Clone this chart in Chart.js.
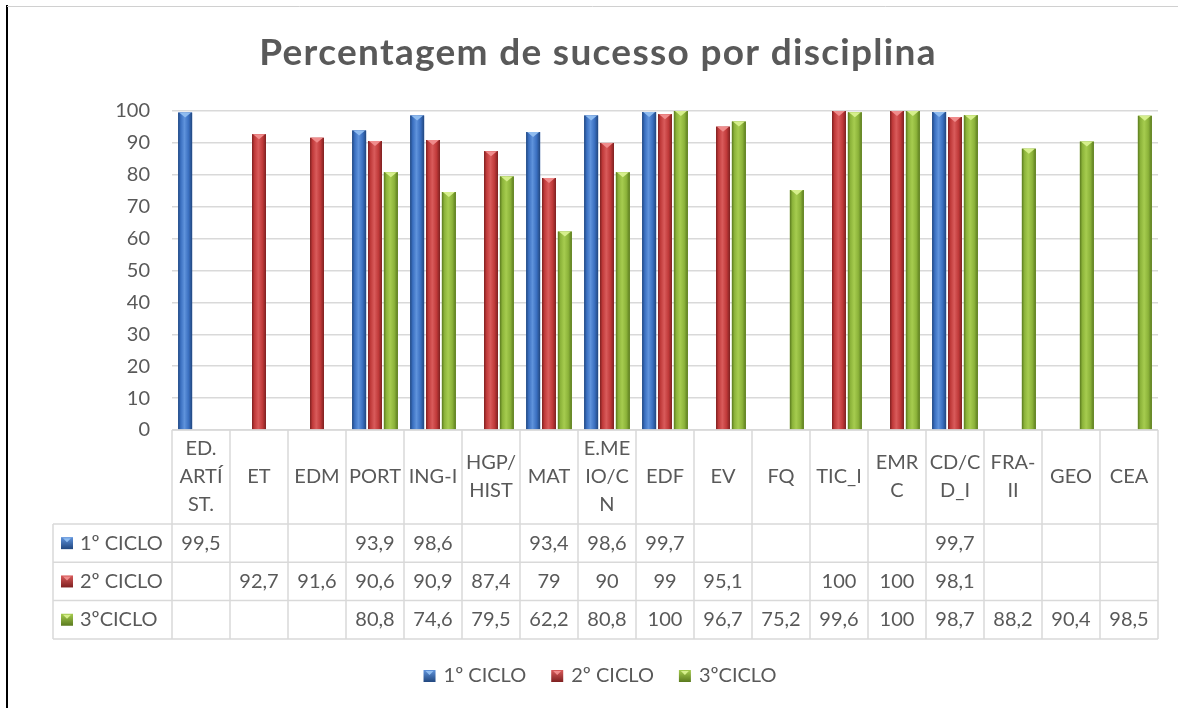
<!DOCTYPE html>
<html>
<head>
<meta charset="utf-8">
<script src="https://cdn.jsdelivr.net/npm/chart.js@4/dist/chart.umd.min.js"></script>
<style>
html,body{margin:0;padding:0;background:#fff;}
#wrap{position:relative;width:1178px;height:708px;}
</style>
</head>
<body>
<div id="wrap"><canvas id="c" width="1178" height="708"></canvas></div>
<script>
const categories = [["ED.","ARTÍ","ST."],["ET"],["EDM"],["PORT"],["ING-I"],["HGP/","HIST"],["MAT"],["E.ME","IO/C","N"],["EDF"],["EV"],["FQ"],["TIC_I"],["EMR","C"],["CD/C","D_I"],["FRA-","II"],["GEO"],["CEA"]];
const seriesNames = ["1º CICLO","2º CICLO","3ºCICLO"];
const ciclo1 = [99.5,null,null,93.9,98.6,null,93.4,98.6,99.7,null,null,null,null,99.7,null,null,null];
const ciclo2 = [null,92.7,91.6,90.6,90.9,87.4,79,90,99,95.1,null,100,100,98.1,null,null,null];
const ciclo3 = [null,null,null,80.8,74.6,79.5,62.2,80.8,100,96.7,75.2,99.6,100,98.7,88.2,90.4,98.5];
const yTicks = [0,10,20,30,40,50,60,70,80,90,100];
const titleText = "Percentagem de sucesso por disciplina";

const FONT = "Lato, 'Open Sans', sans-serif";
const TXT = "#595959";
const GRID = "#d9d9d9";
const palette = [
  {base:"#3a6fc0", dark:"#21477f", light:"#5f93dc", tri:"#8fbcf0"},
  {base:"#c03a3a", dark:"#7e2020", light:"#d95b5b", tri:"#f08c8c"},
  {base:"#8cb33a", dark:"#5a7a1e", light:"#a6cc4f", tri:"#d6ef8c"}
];

function fmt(v){ return String(v).replace(".", ","); }

const bevelPlugin = {
  id:"bevel",
  afterDatasetsDraw(chart){
    const ctx = chart.ctx;
    chart.data.datasets.forEach((ds, di) => {
      const meta = chart.getDatasetMeta(di);
      const p = palette[di];
      meta.data.forEach((el, i) => {
        if (ds.data[i] == null) return;
        const {x, y, base, width} = el.getProps(["x","y","base","width"], true);
        const l = x - width/2, r = x + width/2;
        ctx.save();
        const g = ctx.createLinearGradient(l, 0, r, 0);
        g.addColorStop(0, p.dark);
        g.addColorStop(0.18, p.base);
        g.addColorStop(0.45, p.light);
        g.addColorStop(0.75, p.base);
        g.addColorStop(1, p.dark);
        ctx.fillStyle = g;
        ctx.fillRect(l, y, width, base - y);
        const h = Math.min(5, base - y);
        ctx.fillStyle = p.tri;
        ctx.beginPath();
        ctx.moveTo(l + 1, y);
        ctx.lineTo(r - 1, y);
        ctx.lineTo(x, y + h);
        ctx.closePath();
        ctx.fill();
        ctx.restore();
      });
    });
  }
};

const tablePlugin = {
  id:"datatable",
  afterDraw(chart){
    const ctx = chart.ctx;
    const xs = chart.scales.x;
    const area = chart.chartArea;
    const n = categories.length;
    const colW = (area.right - area.left) / n;
    const top = area.bottom;
    const headBottom = 524;
    const rowH = 38.3;
    const tableLeft = 53;
    const rowsY = [headBottom, headBottom + rowH, headBottom + 2*rowH, headBottom + 3*rowH];
    ctx.save();
    ctx.strokeStyle = GRID;
    ctx.lineWidth = 1.5;
    ctx.beginPath();
    ctx.moveTo(area.left, top); ctx.lineTo(area.right, top);
    rowsY.forEach(yy => { ctx.moveTo(tableLeft, yy); ctx.lineTo(area.right, yy); });
    for (let i = 0; i <= n; i++) {
      const xx = area.left + i * colW;
      ctx.moveTo(xx, top); ctx.lineTo(xx, rowsY[3]);
    }
    ctx.moveTo(tableLeft, headBottom); ctx.lineTo(tableLeft, rowsY[3]);
    ctx.stroke();

    ctx.fillStyle = TXT;
    ctx.font = "20px " + FONT;
    ctx.textAlign = "center";
    ctx.textBaseline = "middle";
    categories.forEach((lines, i) => {
      const cx = xs.getPixelForValue(i);
      const lh = 28;
      const mid = (top + headBottom) / 2;
      const start = mid - (lines.length - 1) * lh / 2;
      lines.forEach((t, k) => ctx.fillText(t, cx, start + k * lh));
    });
    const data = [ciclo1, ciclo2, ciclo3];
    data.forEach((arr, r) => {
      const cy = (rowsY[r] + rowsY[r+1]) / 2;
      arr.forEach((v, i) => {
        if (v == null) return;
        ctx.fillText(fmt(v), xs.getPixelForValue(i), cy);
      });
      const p = palette[r];
      const bx = tableLeft + 8, bs = 12;
      drawKey(ctx, bx, cy - bs/2, bs, p);
      ctx.fillStyle = TXT;
      ctx.textAlign = "left";
      ctx.fillText(seriesNames[r], bx + bs + 7, cy);
      ctx.textAlign = "center";
    });

    // legend
    ctx.textAlign = "left";
    const ly = 676;
    const items = seriesNames.map((s) => ({s, w: ctx.measureText(s).width}));
    const bs = 12, gap = 8, sep = 25;
    let total = 0;
    items.forEach((it, i) => { total += bs + gap + it.w + (i < items.length - 1 ? sep : 0); });
    let lx = 600 - total / 2;
    items.forEach((it, i) => {
      drawKey(ctx, lx, ly - bs/2, bs, palette[i]);
      ctx.fillStyle = TXT;
      ctx.fillText(it.s, lx + bs + gap, ly);
      lx += bs + gap + it.w + sep;
    });

    // title
    ctx.textAlign = "center";
    ctx.font = "bold 37px " + FONT;
    ctx.letterSpacing = "1.3px";
    ctx.fillStyle = TXT;
    ctx.fillText(titleText, 598, 53);
    ctx.letterSpacing = "0px";

    // frame
    ctx.strokeStyle = "#000";
    ctx.lineWidth = 2;
    ctx.beginPath(); ctx.moveTo(7, 5); ctx.lineTo(7, 708); ctx.stroke();
    ctx.strokeStyle = "#d0d0d0";
    ctx.lineWidth = 1;
    ctx.beginPath(); ctx.moveTo(7, 6.5); ctx.lineTo(1178, 6.5); ctx.stroke();
    ctx.restore();
  }
};

function drawKey(ctx, x, y, s, p){
  const g = ctx.createLinearGradient(x, y, x, y + s);
  g.addColorStop(0, p.light);
  g.addColorStop(1, p.dark);
  ctx.fillStyle = g;
  ctx.fillRect(x, y, s, s);
  ctx.fillStyle = p.tri;
  ctx.beginPath();
  ctx.moveTo(x + 2, y + 1); ctx.lineTo(x + s - 2, y + 1); ctx.lineTo(x + s/2, y + 5); ctx.closePath();
  ctx.fill();
}

new Chart(document.getElementById("c"), {
  type: "bar",
  data: {
    labels: categories.map(c => c.join("")),
    datasets: [
      {label: seriesNames[0], data: ciclo1, backgroundColor: palette[0].base},
      {label: seriesNames[1], data: ciclo2, backgroundColor: palette[1].base},
      {label: seriesNames[2], data: ciclo3, backgroundColor: palette[2].base}
    ]
  },
  options: {
    responsive: false,
    animation: false,
    events: [],
    layout: {padding: {left: 0, right: 20, top: 111, bottom: 278}},
    datasets: {bar: {categoryPercentage: 0.82, barPercentage: 0.88}},
    plugins: {legend: {display: false}, title: {display: false}, tooltip: {enabled: false}},
    scales: {
      x: {display: false, offset: true},
      y: {
        min: 0, max: 100,
        afterFit(s){ s.width = 172; },
        afterBuildTicks(s){ s.ticks = yTicks.map(v => ({value: v})); },
        border: {display: false},
        grid: {color: GRID, lineWidth: 1.5, drawTicks: false},
        ticks: {color: TXT, font: {family: FONT, size: 20}, padding: 22}
      }
    }
  },
  plugins: [bevelPlugin, tablePlugin]
});
</script>
</body>
</html>
